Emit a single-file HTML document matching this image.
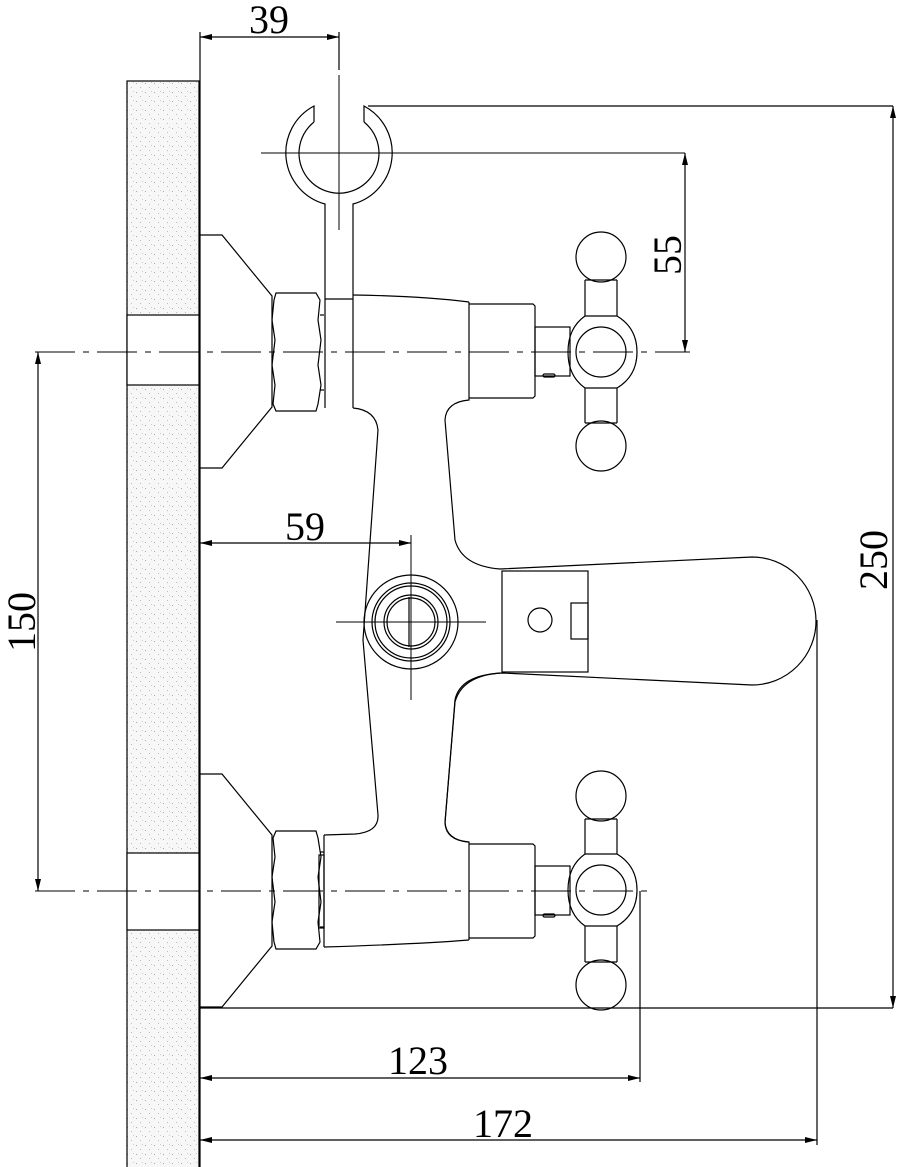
<!DOCTYPE html>
<html><head><meta charset="utf-8"><style>
html,body{margin:0;padding:0;background:#fff}
svg{display:block}
text{font-family:"Liberation Serif",serif;font-size:40px;fill:#000}
</style></head><body>
<svg width="904" height="1167" viewBox="0 0 904 1167" xmlns="http://www.w3.org/2000/svg">
<defs>
<pattern id="st" width="9" height="9" patternUnits="userSpaceOnUse">
<rect width="9" height="9" fill="#f7f7f7"/>
<rect x="1" y="2" width="1" height="1" fill="#aaa"/>
<rect x="5" y="6" width="1" height="1" fill="#bbb"/>
<rect x="7" y="1" width="1" height="1" fill="#ccc"/>
</pattern>
<g id="valve">
<path d="M200,235 L222,235 L272,296 L272,407 L222,468 L200,468"/>
<path d="M276,293 L316,293 L320,300 L318,320 L321,340 L318,365 L321,385 L318,404 L316,411 L276,411 L273,404 L275,385 L272,365 L275,340 L272,320 L274,300 Z"/>
<line x1="320" y1="315" x2="324" y2="315"/><line x1="320" y1="390" x2="324" y2="390"/>
<path d="M469,304 L533,304 L535,306 L535,396 L533,398 L469,398"/>
<rect x="535" y="327" width="35" height="49"/>
<circle cx="601" cy="257" r="25"/>
<circle cx="601" cy="446" r="25"/>
<path d="M585,280 L585,316 M617,280 L617,316 M585,388 L585,423 M617,388 L617,423"/>
<line x1="585" y1="280" x2="617" y2="280"/><line x1="585" y1="423" x2="617" y2="423"/>
<path d="M585,316 L617,316 Q637,328 637,352 Q637,376 617,388 L585,388 Q568,376 568,352 Q568,328 585,316 Z"/>
<circle cx="601" cy="352" r="25"/>
<path d="M469,302 L469,400 Q446,402 445,420 L455,540 Q462,566 500,569"/>
</g>
</defs>
<g fill="none" stroke="#000" stroke-width="1.2">
<rect x="127" y="81" width="72" height="1090" fill="url(#st)"/>
<rect x="127" y="315" width="72" height="70" fill="#fff"/>
<rect x="127" y="853" width="72" height="77" fill="#fff"/>
<line x1="200" y1="32" x2="200" y2="1167"/>

<line x1="339" y1="32" x2="339" y2="70"/>
<line x1="200" y1="37" x2="339" y2="37"/>
<line x1="339" y1="75" x2="339" y2="230" stroke-width="1"/>
<line x1="261" y1="153" x2="685" y2="153" stroke-width="1"/>
<line x1="368" y1="106" x2="893" y2="106"/>
<path d="M314,122 L314,106 A53,53 0 0 0 325,204 L325,408"/>
<path d="M364,122 L364,106 A53,53 0 0 1 353,204 L353,408"/>
<path d="M314,122 A40,40 0 1 0 364,122"/>
<line x1="325" y1="299" x2="353" y2="299"/>

<use href="#valve"/>
<rect x="543" y="374" width="12" height="3" rx="1.5"/>
<path d="M353,295 Q420,296 469,302"/>
<path d="M353,408 Q376,410 378,430 L363,640 L378,815 Q379,832 355,834 L324,835"/>
<g transform="matrix(1,0,0,-1,0,1242)">
<use href="#valve"/>
<path d="M324,295 Q420,298 469,302"/>
<line x1="324" y1="295" x2="324" y2="407"/>
<rect x="319" y="314" width="5" height="73"/>
</g>
<rect x="543" y="914" width="12" height="3" rx="1.5"/>
<path d="M500,569 L752,557 A63,63 0 0 1 752,685 L502,673 Q460,675 455,700 L445,823 Q446,840 468,842"/>
<rect x="502" y="571" width="86" height="101"/>
<circle cx="540" cy="620" r="12"/>
<rect x="571" y="603" width="17" height="36"/>
<circle cx="411" cy="622" r="47"/>
<circle cx="411" cy="622" r="39"/>
<circle cx="411" cy="622" r="36"/>
<circle cx="411" cy="622" r="27"/>
<circle cx="411" cy="622" r="24"/>
<line x1="409" y1="597" x2="409" y2="647"/>
<line x1="411" y1="535" x2="411" y2="700" stroke-width="1"/>
<line x1="336" y1="622" x2="486" y2="622" stroke-width="1"/>

<line x1="35" y1="352" x2="690" y2="352" stroke-dasharray="40,8,6,8" stroke-width="1"/>
<line x1="35" y1="891" x2="655" y2="891" stroke-dasharray="40,8,6,8" stroke-width="1"/>

<line x1="200" y1="1008" x2="893" y2="1008"/>
<line x1="893" y1="106" x2="893" y2="1008"/>
<line x1="685" y1="153" x2="685" y2="352"/>
<line x1="38" y1="352" x2="38" y2="891"/>
<line x1="200" y1="543" x2="411" y2="543"/>
<line x1="640" y1="891" x2="640" y2="1082"/>
<line x1="200" y1="1078" x2="640" y2="1078"/>
<line x1="817" y1="620" x2="817" y2="1145"/>
<line x1="200" y1="1140" x2="817" y2="1140"/>
</g>
<g fill="#000">
<path d="M200,37 l12,-3 v6 z"/><path d="M339,37 l-12,-3 v6 z"/>
<path d="M893,106 l-3,12 h6 z"/><path d="M893,1008 l-3,-12 h6 z"/>
<path d="M685,153 l-3,12 h6 z"/><path d="M685,352 l-3,-12 h6 z"/>
<path d="M38,352 l-3,12 h6 z"/><path d="M38,891 l-3,-12 h6 z"/>
<path d="M200,543 l12,-3 v6 z"/><path d="M411,543 l-12,-3 v6 z"/>
<path d="M200,1078 l12,-3 v6 z"/><path d="M640,1078 l-12,-3 v6 z"/>
<path d="M200,1140 l12,-3 v6 z"/><path d="M817,1140 l-12,-3 v6 z"/>
</g>
<text x="249" y="33">39</text>
<text x="285" y="540">59</text>
<text x="388" y="1074">123</text>
<text x="473" y="1137">172</text>
<text transform="translate(681,275) rotate(-90)">55</text>
<text transform="translate(887,590) rotate(-90)">250</text>
<text transform="translate(35,652) rotate(-90)">150</text>
</svg>
</body></html>
